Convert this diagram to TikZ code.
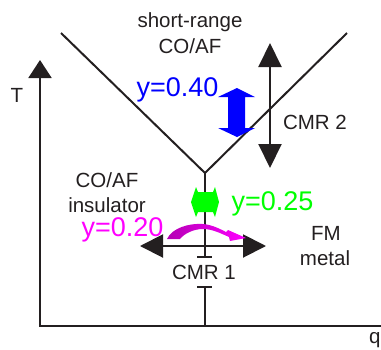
\documentclass[tikz,border=0pt]{standalone}
\usepackage{fontspec}
\setmainfont{Liberation Sans}
\usetikzlibrary{arrows.meta}
\definecolor{ink}{HTML}{231F20}
\definecolor{grn}{HTML}{00FF00}
\definecolor{mag}{HTML}{FF00FF}
\definecolor{dmag}{HTML}{B400B4}
\begin{document}
\begin{tikzpicture}[x=1pt,y=-1pt,
  line/.style={draw=ink,line width=2pt},
  lbl/.style={text=ink,font=\fontsize{20.5}{24}\selectfont,anchor=base,inner sep=0pt},
  big/.style={font=\fontsize{27}{30}\selectfont,anchor=base,inner sep=0pt}]
\useasboundingbox (0,0) rectangle (381,349);
% coordinates
\coordinate (vl) at (61,33);
\coordinate (vr) at (347,33);
\coordinate (vx) at (205,173);
\coordinate (t1) at (205,257);
\coordinate (t2) at (205,287);
\coordinate (bot) at (205,326);
\coordinate (o) at (40,326);
\coordinate (ty) at (40,60);
\coordinate (qx) at (386,326);
\coordinate (h1) at (140,246);
\coordinate (h2) at (266,246);
\coordinate (c2a) at (270,43);
\coordinate (c2b) at (270,168);
% axes
\draw[line,-{Triangle[length=18pt,width=23pt]}] (o) -- (ty);
\draw[line] ([xshift=-1pt]o) -- (qx);
% phase lines
\draw[line] (vl) -- (vx) -- (vr);
\draw[line] (vx) -- (t1);
\draw[line] (t2) -- (bot);
\draw[line] ([xshift=-8pt]t1) -- ([xshift=7pt]t1);
\draw[line] ([xshift=-8pt]t2) -- ([xshift=7pt]t2);
% CMR arrows
\draw[line,{Triangle[length=23pt,width=23pt]}-{Triangle[length=23pt,width=23pt]}] (h1) -- (h2);
\draw[line,{Triangle[length=24pt,width=23pt]}-{Triangle[length=24pt,width=23pt]}] (c2a) -- (c2b);
% blue arrow
\fill[blue] (237,88) -- (255,97) -- (245,97) -- (245,128) -- (255,128) -- (237,137)
  -- (218,128) -- (228,128) -- (228,97) -- (218,97) -- cycle;
% green arrow
\fill[grn] (191,202) -- (196,187) -- (198,192) -- (213,192) -- (215,187) -- (219,202)
  -- (215,217) -- (213,212) -- (198,212) -- (196,217) -- cycle;
% magenta curved arrow
\shade[left color=dmag,right color=mag] (167,239) .. controls (172,228) and (189,223) .. (203,224)
  .. controls (213,225) and (220,229) .. (226,232) -- (228,230) -- (246,238) -- (230,241)
  -- (229,237) .. controls (220,233) and (212,229) .. (203,229)
  .. controls (193,229) and (184,234) .. (180,239) -- cycle;
% labels
\node[lbl] (sr1) at (190,27) {short-range};
\node[lbl] (sr2) at (190,53) {CO/AF};
\node[lbl] (T) at (17,102) {T};
\node[lbl] (cmr2) at (315,129) {CMR 2};
\node[lbl] (ins1) at (107,187) {CO/AF};
\node[lbl] (ins2) at (107,212) {insulator};
\node[lbl] (fm1) at (326,240) {FM};
\node[lbl] (fm2) at (325,265) {metal};
\node[lbl] (cmr1) at (204,279) {CMR 1};
\node[lbl,anchor=base west] (q) at (369,343.5) {q};
\node[big,text=blue] (y40) at (177.5,96) {y=0.40};
\node[big,text=grn] (y25) at (272.5,210) {y=0.25};
\node[big,text=mag] (y20) at (122.5,236) {y=0.20};
\end{tikzpicture}
\end{document}
